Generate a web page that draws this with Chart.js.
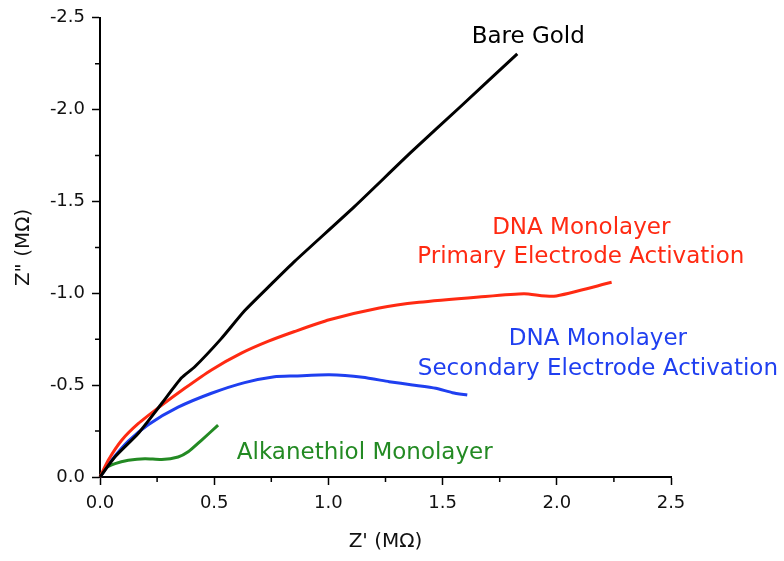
<!DOCTYPE html>
<html><head><meta charset="utf-8">
<script src="https://cdn.jsdelivr.net/npm/chart.js@4.4.1/dist/chart.umd.min.js"></script>
<style>html,body{margin:0;padding:0;background:#fff;}canvas{display:block;}</style>
</head><body>
<canvas id="c" width="784" height="561"></canvas>
<script>
// ---- data (Z' in MΩ, Z'' in MΩ) ----
const bareGoldX = [0, 0.066, 0.167, 0.27, 0.357, 0.415, 0.53, 0.633, 0.75, 0.852, 1.114, 1.361, 1.579, 1.827];
const bareGoldY = [0, -0.11, -0.237, -0.40, -0.54, -0.60, -0.752, -0.905, -1.05, -1.174, -1.472, -1.767, -2.017, -2.304];

const primaryX = [0, 0.036, 0.095, 0.167, 0.262, 0.371, 0.488, 0.619, 0.735, 0.852, 1.004, 1.223, 1.397, 1.659, 1.856, 1.987, 2.24];
const primaryY = [0, -0.091, -0.20, -0.29, -0.383, -0.483, -0.583, -0.674, -0.738, -0.792, -0.856, -0.92, -0.951, -0.98, -0.998, -0.984, -1.06];

const secondaryX = [0, 0.051, 0.124, 0.211, 0.342, 0.488, 0.633, 0.764, 0.852, 1.004, 1.15, 1.266, 1.368, 1.47, 1.543, 1.608];
const secondaryY = [0, -0.091, -0.195, -0.285, -0.38, -0.456, -0.514, -0.546, -0.55, -0.556, -0.543, -0.519, -0.501, -0.483, -0.459, -0.446];

const alkanethiolX = [0, 0.022, 0.066, 0.124, 0.197, 0.27, 0.342, 0.386, 0.444, 0.517];
const alkanethiolY = [0, -0.046, -0.073, -0.091, -0.10, -0.095, -0.109, -0.137, -0.20, -0.282];

const xTickValues = [0, 0.5, 1.0, 1.5, 2.0, 2.5];
const yTickValues = [-2.5, -2.0, -1.5, -1.0, -0.5, 0];
const xMinorTicks = [0.25, 0.75, 1.25, 1.75, 2.25];
const yMinorTicks = [-2.25, -1.75, -1.25, -0.75, -0.25];

const seriesNames = ['Bare Gold', 'DNA Primary', 'DNA Secondary', 'Alkanethiol'];

// ---- styles ----
const C_BLACK = '#000000', C_RED = '#ff2a12', C_BLUE = '#1f3ff0', C_GREEN = '#238a23';
const FONT = '"DejaVu Sans", "Liberation Sans", Arial, sans-serif';

const annotations = [
  {text: 'Bare Gold', color: C_BLACK, x: 1.875, y: -2.365},
  {text: 'DNA Monolayer', color: C_RED, x: 2.107, y: -1.324},
  {text: 'Primary Electrode Activation', color: C_RED, x: 2.105, y: -1.165},
  {text: 'DNA Monolayer', color: C_BLUE, x: 2.18, y: -0.717},
  {text: 'Secondary Electrode Activation', color: C_BLUE, x: 2.18, y: -0.554},
  {text: 'Alkanethiol Monolayer', color: C_GREEN, x: 1.159, y: -0.098}
];

const toPts = (xs, ys) => xs.map((x, i) => ({x: x, y: ys[i]}));

const annotPlugin = {
  id: 'annot',
  afterDatasetsDraw(chart) {
    const {ctx, scales: {x, y}} = chart;
    ctx.save();
    ctx.font = '23px ' + FONT;
    ctx.textAlign = 'center';
    ctx.textBaseline = 'alphabetic';
    annotations.forEach(a => {
      ctx.fillStyle = a.color;
      ctx.fillText(a.text, x.getPixelForValue(a.x), y.getPixelForValue(a.y));
    });
    ctx.restore();
  }
};

const minorTickPlugin = {
  id: 'minorTicks',
  afterDraw(chart) {
    const {ctx, scales: {x, y}} = chart;
    ctx.save();
    ctx.strokeStyle = '#000';
    ctx.lineWidth = 1.5;
    ctx.beginPath();
    xMinorTicks.forEach(v => {
      const px = x.getPixelForValue(v);
      ctx.moveTo(px, x.top);
      ctx.lineTo(px, x.top + 5);
    });
    yMinorTicks.forEach(v => {
      const py = y.getPixelForValue(v);
      ctx.moveTo(y.right, py);
      ctx.lineTo(y.right - 5, py);
    });
    ctx.stroke();
    ctx.restore();
  }
};

const ds = (label, xs, ys, color) => ({
  label: label,
  data: toPts(xs, ys),
  showLine: true,
  borderColor: color,
  backgroundColor: color,
  borderWidth: 3,
  pointRadius: 0,
  tension: 0.2,
  fill: false,
  clip: false
});

new Chart(document.getElementById('c'), {
  type: 'scatter',
  data: {
    datasets: [
      ds(seriesNames[0], bareGoldX, bareGoldY, C_BLACK),
      ds(seriesNames[1], primaryX, primaryY, C_RED),
      ds(seriesNames[2], secondaryX, secondaryY, C_BLUE),
      ds(seriesNames[3], alkanethiolX, alkanethiolY, C_GREEN)
    ]
  },
  options: {
    responsive: false,
    animation: false,
    events: [],
    layout: {padding: {left: 0, right: 113, top: 17, bottom: 0}},
    plugins: {legend: {display: false}, tooltip: {enabled: false}, title: {display: false}},
    scales: {
      x: {
        type: 'linear',
        min: 0, max: 2.5,
        afterFit(s) { s.height = 84; },
        afterBuildTicks(s) { s.ticks = xTickValues.map(v => ({value: v})); },
        grid: {drawOnChartArea: false, drawTicks: true, tickLength: 8, tickColor: '#000', tickWidth: 1.5},
        border: {display: true, color: '#000', width: 2},
        ticks: {
          color: '#111', padding: 8, maxRotation: 0, autoSkip: false,
          font: {family: FONT, size: 18},
          callback: v => Number(v).toFixed(1)
        },
        title: {display: true, text: "Z' (MΩ)", color: '#111', font: {family: FONT, size: 20}, padding: {top: 0, bottom: 7}}
      },
      y: {
        type: 'linear',
        min: -2.5, max: 0,
        reverse: true,
        afterFit(s) { s.width = 100; },
        afterBuildTicks(s) { s.ticks = yTickValues.map(v => ({value: v})); },
        grid: {drawOnChartArea: false, drawTicks: true, tickLength: 8, tickColor: '#000', tickWidth: 1.5},
        border: {display: true, color: '#000', width: 2},
        ticks: {
          color: '#111', padding: 7, autoSkip: false,
          font: {family: FONT, size: 18},
          callback: v => (Math.abs(v) < 1e-9 ? '0.0' : Number(v).toFixed(1))
        },
        title: {display: true, text: 'Z" (MΩ)', color: '#111', font: {family: FONT, size: 20}, padding: {top: 12, bottom: 0}}
      }
    }
  },
  plugins: [annotPlugin, minorTickPlugin]
});
</script>
</body></html>
